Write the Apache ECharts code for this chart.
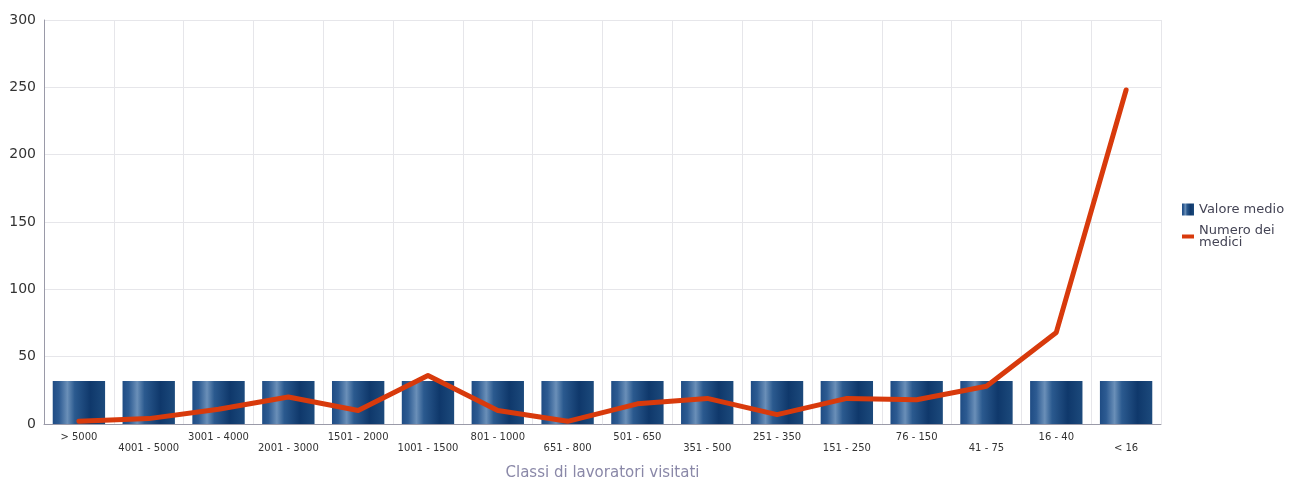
<!DOCTYPE html>
<html>
<head>
<meta charset="utf-8">
<script src="https://cdn.jsdelivr.net/npm/echarts@6/dist/echarts.min.js"></script>
<style>
  html, body { margin: 0; padding: 0; background: #fff; }
  #chart { width: 1311px; height: 483px; }
</style>
</head>
<body>
<div id="chart"></div>
<script>
// Classes of visited workers
const categories = ['> 5000', '4001 - 5000', '3001 - 4000', '2001 - 3000', '1501 - 2000',
  '1001 - 1500', '801 - 1000', '651 - 800', '501 - 650', '351 - 500', '251 - 350',
  '151 - 250', '76 - 150', '41 - 75', '16 - 40', '< 16'];

// Average value per class
const valoreMedio = [32, 32, 32, 32, 32, 32, 32, 32, 32, 32, 32, 32, 32, 32, 32, 32];

// Number of doctors per class
const numeroMedici = [2, 4, 11, 20, 10, 36, 10, 2, 15, 19, 7, 19, 18, 28, 68, 248];

const yTicks = { min: 0, max: 300, interval: 50 };

const chart = echarts.init(document.getElementById('chart'));

// Cylinder-like shading across each bar
const barGradient = new echarts.graphic.LinearGradient(0, 0, 1, 0, [
  { offset: 0, color: '#1f4c84' },
  { offset: 0.12, color: '#2d5b92' },
  { offset: 0.28, color: '#6a8fb8' },
  { offset: 0.42, color: '#2b5a8f' },
  { offset: 0.72, color: '#0f386b' },
  { offset: 1, color: '#1c4a7c' }
]);

chart.setOption({
  animation: false,
  grid: { left: 44, right: 150, top: 20, bottom: 59, outerBoundsMode: 'none' },
  legend: {
    orient: 'vertical',
    left: 1177,
    top: 198,
    itemWidth: 12,
    itemHeight: 12,
    itemGap: 8,
    textStyle: { fontFamily: 'DejaVu Sans', fontSize: 13, color: '#444455', lineHeight: 12 },
    formatter: name => name === 'Numero dei medici' ? 'Numero dei\nmedici' : name,
    data: [
      { name: 'Valore medio', icon: 'rect' },
      { name: 'Numero dei medici', icon: 'path://M0,0H12V4H0Z' }
    ]
  },
  xAxis: {
    type: 'category',
    data: categories,
    name: 'Classi di lavoratori visitati',
    nameLocation: 'middle',
    nameGap: 42,
    nameTextStyle: { fontFamily: 'DejaVu Sans', fontSize: 15, color: '#8a88a8' },
    axisLine: { lineStyle: { color: '#9a9aa8', width: 1 } },
    axisTick: { show: false },
    splitLine: { show: true, lineStyle: { color: '#e6e6ea', width: 1 } },
    axisLabel: {
      interval: 0,
      margin: 8,
      fontFamily: 'DejaVu Sans',
      fontSize: 10,
      color: '#333',
      lineHeight: 11,
      formatter: (v, i) => (i % 2 === 1 ? '\n' + v : v)
    }
  },
  yAxis: {
    type: 'value',
    min: yTicks.min,
    max: yTicks.max,
    interval: yTicks.interval,
    axisLine: { show: true, lineStyle: { color: '#9a9aa8', width: 1 } },
    axisTick: { show: false },
    splitLine: { lineStyle: { color: '#e6e6ea', width: 1 } },
    axisLabel: { fontFamily: 'DejaVu Sans', fontSize: 14, color: '#333', margin: 8 }
  },
  series: [
    {
      name: 'Valore medio',
      type: 'bar',
      data: valoreMedio,
      barWidth: '75%',
      itemStyle: { color: barGradient }
    },
    {
      name: 'Numero dei medici',
      type: 'line',
      data: numeroMedici,
      smooth: false,
      showSymbol: false,
      symbol: 'none',
      lineStyle: { color: '#d83a0c', width: 5, cap: 'round', join: 'round' },
      itemStyle: { color: '#d83a0c' },
      z: 3
    }
  ]
});
</script>
</body>
</html>
